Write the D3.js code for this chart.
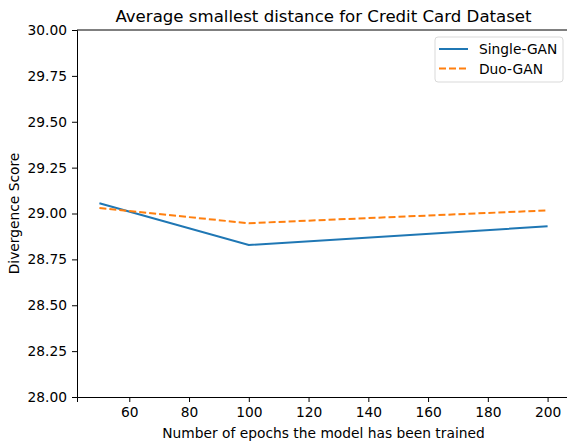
<!DOCTYPE html>
<html>
<head>
<meta charset="utf-8">
<script src="https://cdn.jsdelivr.net/npm/d3@7/dist/d3.min.js"></script>
<style>
  html, body { margin: 0; padding: 0; background: #fff; }
  svg { display: block; font-family: "DejaVu Sans", sans-serif; }
</style>
</head>
<body>
<svg id="chart" width="567" height="444"></svg>
<script>
// Epochs trained and average smallest distance per model
const epochs = [50, 100, 200];
const singleGan = [29.056, 28.828, 28.930];
const duoGan = [29.030, 28.947, 29.017];
const xTicks = [60, 80, 100, 120, 140, 160, 180, 200];
const yTicks = [28.00, 28.25, 28.50, 28.75, 29.00, 29.25, 29.50, 29.75, 30.00];
const seriesNames = ["Single-GAN", "Duo-GAN"];

const W = 567, H = 444;
const margin = { left: 77, right: -3, top: 30, bottom: 47 };
const svg = d3.select("#chart");
const labelSize = 13.8, titleSize = 16.6;

const x = d3.scaleLinear()
  .domain([42.5, 207.5])
  .range([margin.left, W - margin.right]);
const y = d3.scaleLinear()
  .domain([28, 30])
  .range([H - margin.bottom, margin.top]);

const series = [
  { name: seriesNames[0], values: singleGan, color: "#1f77b4", dash: null },
  { name: seriesNames[1], values: duoGan, color: "#ff7f0e", dash: "7,3" }
];

// Lines
const line = d3.line()
  .x((d, i) => x(epochs[i]))
  .y(d => y(d));

series.forEach(s => {
  svg.append("path")
    .datum(s.values)
    .attr("d", line)
    .attr("fill", "none")
    .attr("stroke", s.color)
    .attr("stroke-width", 2)
    .attr("stroke-dasharray", s.dash);
});

// Axes
const xAxis = d3.axisBottom(x).tickValues(xTicks).tickSize(5).tickPadding(5)
  .tickFormat(d3.format("d"));
const yAxis = d3.axisLeft(y).tickValues(yTicks).tickSize(5).tickPadding(5)
  .tickFormat(d3.format(".2f"));

const gx = svg.append("g")
  .attr("transform", `translate(0,${H - margin.bottom})`)
  .call(xAxis);
const gy = svg.append("g")
  .attr("transform", `translate(${margin.left},0)`)
  .call(yAxis);

[gx, gy].forEach(g => {
  g.selectAll("text").attr("font-size", labelSize).attr("fill", "#000")
    .attr("font-family", "DejaVu Sans, sans-serif");
  g.selectAll("line").attr("stroke", "#000").attr("stroke-width", 1);
  g.select(".domain").attr("stroke", "#000").attr("stroke-width", 1);
});

// Top spine
svg.append("line")
  .attr("x1", x.range()[0]).attr("x2", x.range()[1])
  .attr("y1", margin.top).attr("y2", margin.top)
  .attr("stroke", "#000").attr("stroke-width", 1);

// Title and axis labels
svg.append("text")
  .attr("x", (x.range()[0] + x.range()[1]) / 2)
  .attr("y", 22)
  .attr("text-anchor", "middle")
  .attr("font-size", titleSize)
  .text("Average smallest distance for Credit Card Dataset");

svg.append("text")
  .attr("x", (x.range()[0] + x.range()[1]) / 2)
  .attr("y", 438)
  .attr("text-anchor", "middle")
  .attr("font-size", labelSize)
  .text("Number of epochs the model has been trained");

svg.append("text")
  .attr("transform", `translate(19,${(y.range()[0] + y.range()[1]) / 2}) rotate(-90)`)
  .attr("text-anchor", "middle")
  .attr("font-size", labelSize)
  .text("Divergence Score");

// Legend
const legend = svg.append("g").attr("transform", "translate(435,37)");
legend.append("rect")
  .attr("width", 128).attr("height", 45)
  .attr("rx", 3)
  .attr("fill", "#fff").attr("fill-opacity", 0.8)
  .attr("stroke", "#d9d9d9").attr("stroke-width", 1);

series.forEach((s, i) => {
  const ly = 12 + i * 19.5;
  legend.append("line")
    .attr("x1", 4).attr("x2", 33)
    .attr("y1", ly).attr("y2", ly)
    .attr("stroke", s.color).attr("stroke-width", 2)
    .attr("stroke-dasharray", s.dash);
  legend.append("text")
    .attr("x", 44).attr("y", ly + 5)
    .attr("font-size", labelSize)
    .text(s.name);
});
</script>
</body>
</html>
